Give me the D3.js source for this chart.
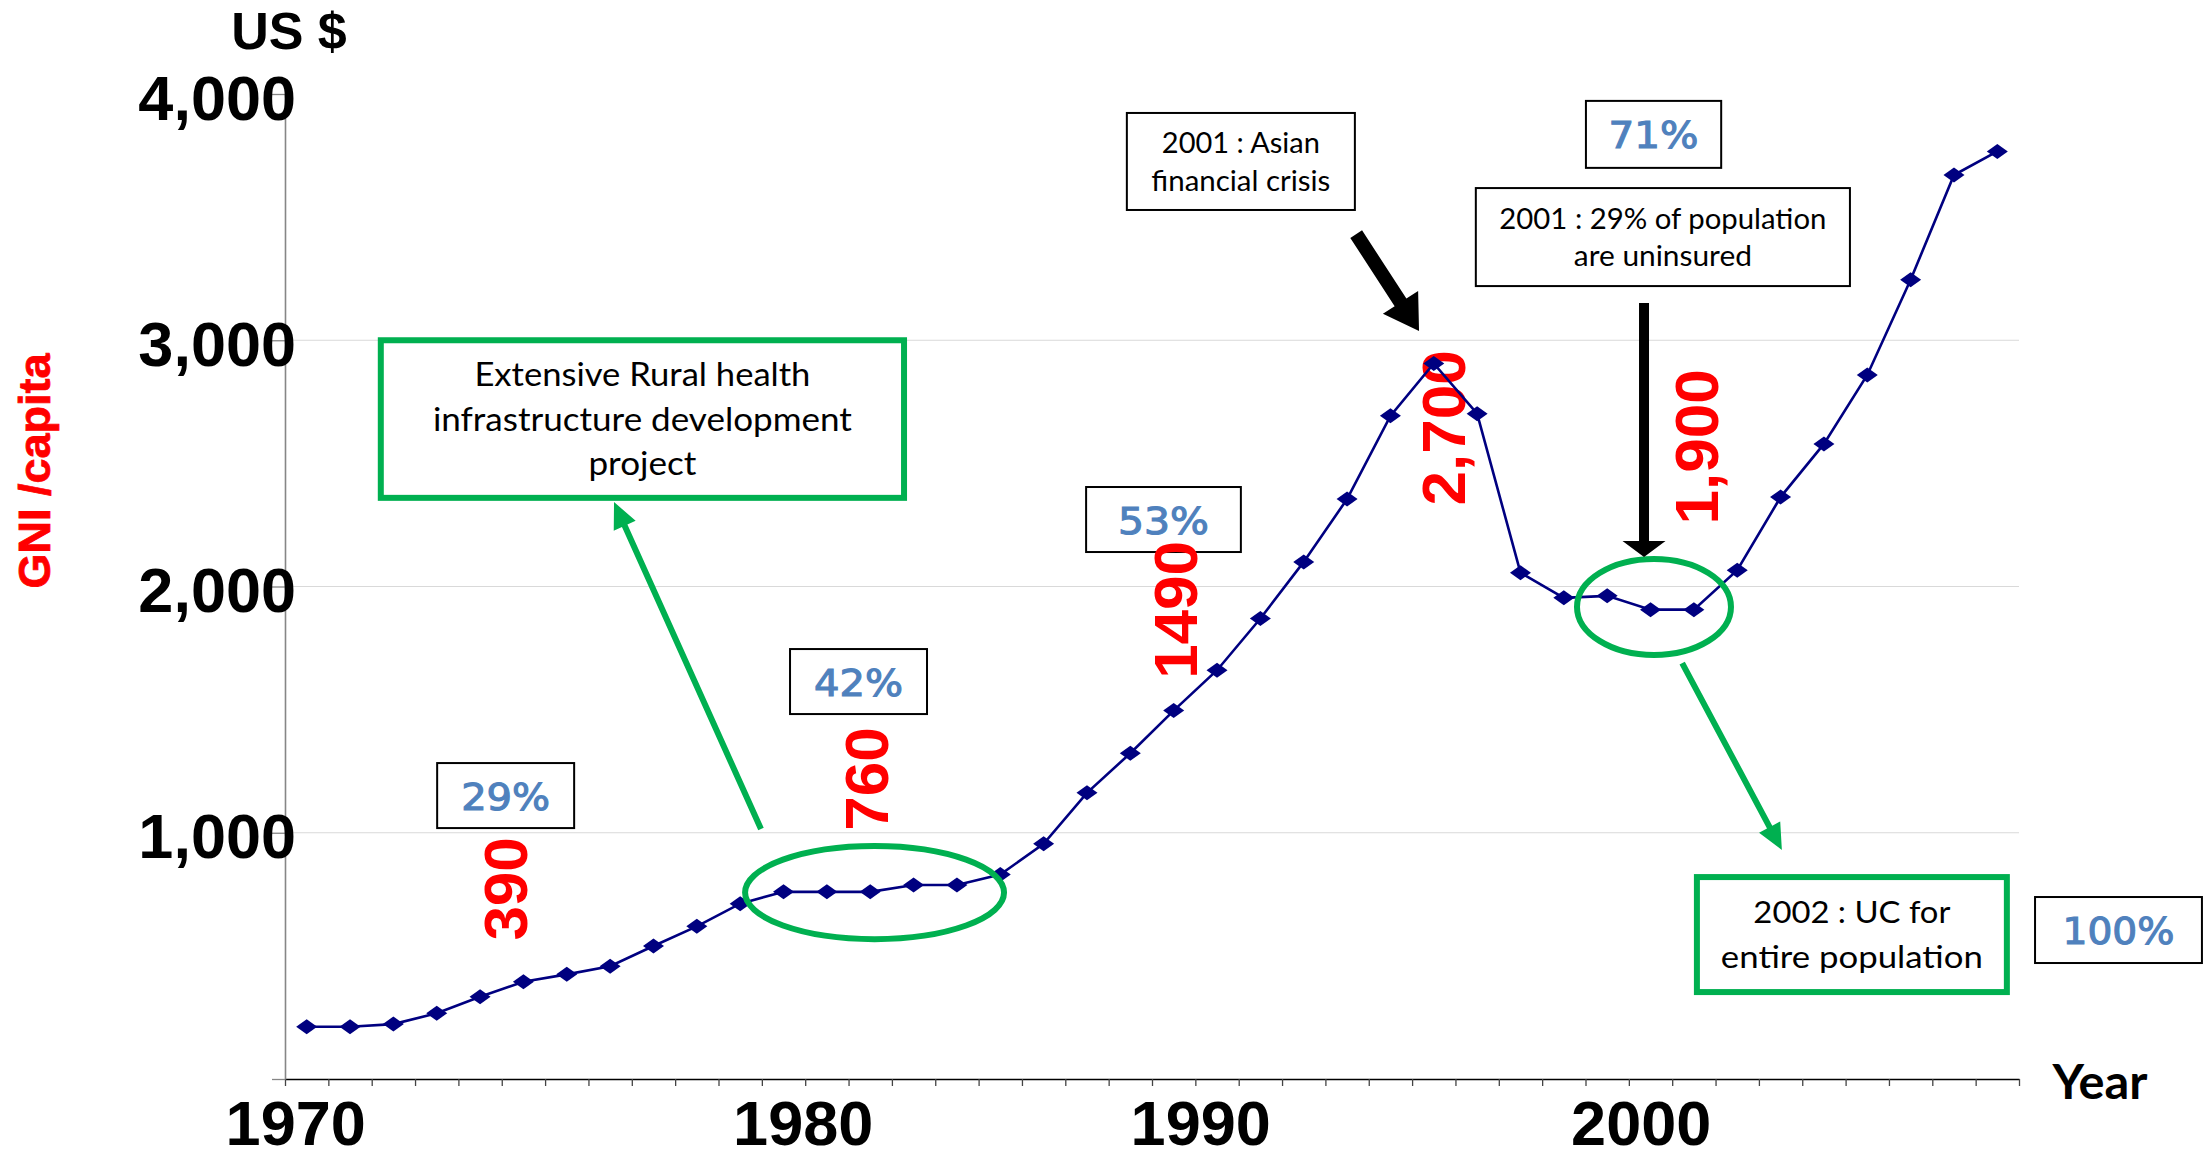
<!DOCTYPE html>
<html><head><meta charset="utf-8">
<script src="https://cdn.jsdelivr.net/npm/d3@7/dist/d3.min.js"></script>
<style>html,body{margin:0;padding:0;background:#fff;}svg{display:block;}</style>
</head><body>
<svg id="chart" width="2211" height="1159"></svg>
<script>
// ---------------- DATA ----------------
const years = [1970,1971,1972,1973,1974,1975,1976,1977,1978,1979,
               1980,1981,1982,1983,1984,1985,1986,1987,1988,1989,
               1990,1991,1992,1993,1994,1995,1996,1997,1998,1999,
               2000,2001,2002,2003,2004,2005,2006,2007,2008,2009];
const gniPerCapita = [212,212,223,267,334,395,425,458,540,620,
                      712,760,760,760,788,788,830,955,1162,1323,
                      1496,1660,1870,2100,2355,2693,2906,2702,2056,1954,
                      1962,1906,1906,2066,2363,2579,2859,3246,3671,3767];
const yTickValues = [0,1000,2000,3000,4000];
const yTickLabels = ["","1,000","2,000","3,000","4,000"];
const gridValues = [1000,2000,3000];
const decadeYears = [1970,1980,1990,2000];
const decadeLabels = ["1970","1980","1990","2000"];
const coverageLabels = ["29%","42%","53%","71%","100%"];
const gniCallouts = ["390","760","1490","2,700","1,900"];
const noteRural = ["Extensive Rural health","infrastructure development","project"];
const noteCrisis = ["2001 : Asian","financial crisis"];
const noteUninsured = ["2001 : 29% of population","are uninsured"];
const noteUC = ["2002 : UC for","entire population"];
const titleY = "GNI /capita", titleUnit = "US $", titleX = "Year";

// ---------------- LAYOUT ----------------
const plot = {left:285, right:2019, top:94, bottom:1079};
const svg = d3.select("#chart");
const x = d3.scaleBand().domain(years).range([plot.left, plot.right]).padding(0);
const bw = x.bandwidth();
const y = d3.scaleLinear().domain([0,4000]).range([plot.bottom, plot.top]);
// continuous year position (centre of band)
const xv = d3.scaleLinear().domain([years[0], years[years.length-1]])
  .range([x(years[0])+bw/2, x(years[years.length-1])+bw/2]);
const xb = d3.scaleLinear().domain([0, years.length]).range([plot.left, plot.right]);

const GREEN = "#00B050", NAVY = "#000080", RED = "#FF0000", BLUE = "#4F81BD";
const ARIAL = "'Liberation Sans', Arial, sans-serif";
const CAL = "Lato, 'Open Sans', sans-serif";

// gridlines
svg.append("g").selectAll("line").data(gridValues).join("line")
  .attr("x1", plot.left).attr("x2", plot.right)
  .attr("y1", d=>y(d)).attr("y2", d=>y(d))
  .attr("stroke", "#D9D9D9").attr("stroke-width", 1.2);

// x axis
const gx = svg.append("g").attr("transform", `translate(0,${plot.bottom})`)
  .call(d3.axisBottom(xb).tickValues(d3.range(0, years.length+1)).tickSize(7).tickSizeOuter(0).tickFormat(""));
gx.select(".domain").attr("stroke", "#000").attr("stroke-width", 1.6);
gx.selectAll(".tick line").attr("stroke", "#444").attr("stroke-width", 1.3);

// y axis
const gy = svg.append("g").attr("transform", `translate(${plot.left},0)`)
  .call(d3.axisLeft(y).tickValues(yTickValues).tickSize(13).tickSizeOuter(0).tickPadding(-24)
    .tickFormat(d => yTickLabels[yTickValues.indexOf(d)]));
gy.select(".domain").attr("stroke", "#868686").attr("stroke-width", 1.6);
gy.selectAll(".tick line").attr("stroke", "#868686").attr("stroke-width", 1.3);
gy.selectAll(".tick text").attr("font-family", ARIAL).attr("font-weight", "bold")
  .attr("font-size", 63).attr("fill", "#000").attr("dy", "0.40em");

// decade labels (hand-placed text boxes in the original)
const decadeNudge = [-11, 63, 27, 34];
svg.append("g").selectAll("text").data(decadeYears).join("text")
  .attr("x", (d,i) => xv(d) + decadeNudge[i]).attr("y", 1145)
  .attr("text-anchor", "middle").attr("font-family", ARIAL).attr("font-weight", "bold")
  .attr("font-size", 63).attr("fill", "#000").text((d,i) => decadeLabels[i]);

// axis titles
svg.append("text").attr("x", 289).attr("y", 49).attr("text-anchor", "middle")
  .attr("font-family", ARIAL).attr("font-weight", "bold").attr("font-size", 52).text(titleUnit);
svg.append("text").attr("transform", "translate(50,471) rotate(-90)").attr("text-anchor", "middle")
  .attr("font-family", ARIAL).attr("font-weight", "bold").attr("font-size", 45).attr("fill", RED)
  .attr("stroke", RED).attr("stroke-width", 0.8).text(titleY);
svg.append("text").attr("x", 2100).attr("y", 1099).attr("text-anchor", "middle")
  .attr("font-family", CAL).attr("font-weight", "bold").attr("font-size", 47)
  .attr("textLength", 95).attr("lengthAdjust", "spacingAndGlyphs").text(titleX);

// ---------------- ANNOTATION BOXES (in data units) ----------------
function box(b, lines, opts) {
  const x0 = xv(b[0]), x1 = xv(b[1]), y0 = y(b[2]), y1 = y(b[3]);
  const g = svg.append("g");
  g.append("rect").attr("x", x0).attr("y", y0).attr("width", x1-x0).attr("height", y1-y0)
    .attr("fill", "#fff").attr("stroke", opts.stroke).attr("stroke-width", opts.sw);
  const cx = (x0+x1)/2, cy = (y0+y1)/2, n = lines.length;
  g.selectAll("text").data(lines).join("text")
    .attr("x", cx).attr("y", (d,i) => cy + (i-(n-1)/2)*opts.lh + opts.base*opts.fs)
    .attr("text-anchor", "middle").attr("font-family", opts.font).attr("font-weight", opts.fw||"normal")
    .attr("font-size", opts.fs).attr("fill", opts.fill||"#000")
    .attr("stroke", opts.tstroke || "none").attr("stroke-width", opts.tsw || 0)
    .attr("textLength", (d,i) => opts.widths[i]).attr("lengthAdjust", "spacingAndGlyphs")
    .text(d => d);
}
box([1971.71, 1983.78, 3000, 2360], noteRural,
    {stroke: GREEN, sw: 6, lh: 44.5, fs: 33, base: 0.36, font: CAL, widths: [336, 419, 108]});
box([1988.92, 1994.18, 3923, 3529], noteCrisis,
    {stroke: "#000", sw: 2, lh: 38, fs: 28, base: 0.36, font: CAL, widths: [158, 179]});
box([1996.97, 2005.60, 3618, 3220], noteUninsured,
    {stroke: "#000", sw: 2, lh: 37, fs: 29, base: 0.36, font: CAL, widths: [327, 178]});
box([2002.07, 2009.22, 820, 353], noteUC,
    {stroke: GREEN, sw: 6, lh: 45, fs: 31, base: 0.36, font: CAL, widths: [197, 262]});

const pctBoxes = [[1973.01, 1976.17, 1283, 1019],[1981.15, 1984.31, 1746, 1482],
                  [1987.98, 1991.55, 2404, 2140],[1999.51, 2002.63, 3972, 3700],
                  [2009.87, 2013.72, 739, 471]];
const pctWidths = [89, 89, 91, 90, 112];
coverageLabels.forEach((lab, i) => box(pctBoxes[i], [lab],
  {stroke: "#000", sw: 2, lh: 0, fs: 37, base: 0.38, font: "'DejaVu Sans', Verdana, sans-serif", fw: "normal",
   fill: BLUE, tstroke: BLUE, tsw: 1.1, widths: [pctWidths[i]]}));

// red GNI callouts (rotated)
const calloutPos = [[1974.57, 772],[1982.90, 1218],[1990.02, 1905],[1996.21, 2644],[2002.05, 2567]];
svg.append("g").selectAll("text").data(gniCallouts).join("text")
  .attr("transform", (d,i) => `translate(${xv(calloutPos[i][0])},${y(calloutPos[i][1])}) rotate(-90)`)
  .attr("text-anchor", "middle").attr("dy", "0.36em")
  .attr("font-family", ARIAL).attr("font-weight", "bold").attr("font-size", 62).attr("fill", RED)
  .text(d => d);

// ---------------- SERIES ----------------
const series = years.map((yr, i) => ({year: yr, v: gniPerCapita[i]}));
svg.append("path").datum(series)
  .attr("d", d3.line().x(d => x(d.year) + bw/2).y(d => y(d.v)))
  .attr("fill", "none").attr("stroke", NAVY).attr("stroke-width", 2.6);
svg.append("g").selectAll("path").data(series).join("path")
  .attr("transform", d => `translate(${x(d.year)+bw/2},${y(d.v)})`)
  .attr("d", "M0,-7.5L10.5,0L0,7.5L-10.5,0Z").attr("fill", NAVY);

// ---------------- ELLIPSES & ARROWS ----------------
const ellipses = [[1983.10, 757, 2.987, 189],[2001.08, 1917, 1.776, 195]];
svg.append("g").selectAll("ellipse").data(ellipses).join("ellipse")
  .attr("cx", d => xv(d[0])).attr("cy", d => y(d[1]))
  .attr("rx", d => xv(d[0]+d[2]) - xv(d[0])).attr("ry", d => y(0) - y(d[3]))
  .attr("fill", "none").attr("stroke", GREEN).attr("stroke-width", 6);

function arrow(a, b, sw, hl, hw, color) {
  const x1 = xv(a[0]), y1 = y(a[1]), x2 = xv(b[0]), y2 = y(b[1]);
  const dx = x2-x1, dy = y2-y1, L = Math.hypot(dx, dy), ux = dx/L, uy = dy/L, nx = -uy, ny = ux;
  const bx = x2 - ux*hl, by = y2 - uy*hl;
  const pts = [
    [x1 + nx*sw/2, y1 + ny*sw/2], [bx + nx*sw/2, by + ny*sw/2], [bx + nx*hw/2, by + ny*hw/2],
    [x2, y2], [bx - nx*hw/2, by - ny*hw/2], [bx - nx*sw/2, by - ny*sw/2], [x1 - nx*sw/2, y1 - ny*sw/2]];
  svg.append("polygon").attr("points", pts.map(p => p.join(",")).join(" ")).attr("fill", color);
}
arrow([1980.48, 1015], [1977.09, 2343], 6, 26, 24, GREEN);
arrow([2001.73, 1689], [2004.03, 930], 6, 26, 24, GREEN);
arrow([1994.21, 3431], [1995.66, 3038], 14, 34, 42, "#000");
arrow([2000.85, 3151], [2000.85, 2120], 10, 16, 43, "#000");
</script>
</body></html>
